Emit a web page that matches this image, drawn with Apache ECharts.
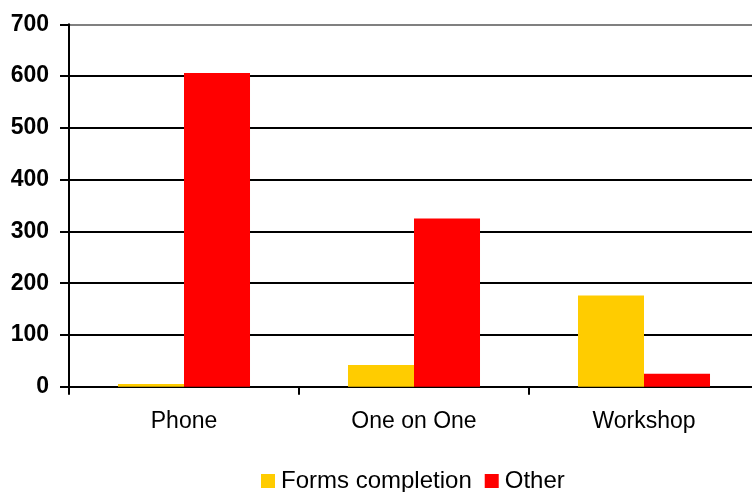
<!DOCTYPE html>
<html>
<head>
<meta charset="utf-8">
<script src="https://cdn.jsdelivr.net/npm/echarts@6/dist/echarts.min.js"></script>
<style>html,body{margin:0;padding:0;background:#fff;overflow:hidden;width:752px;height:492px;}#c{width:770px;height:492px;}</style>
</head>
<body>
<div id="c"></div>
<script>
const categories = ['Phone', 'One on One', 'Workshop'];
const formsCompletion = [5, 42, 176];
const other = [606, 325, 25];
const yTicks = [0, 100, 200, 300, 400, 500, 600, 700];

const chart = echarts.init(document.getElementById('c'), null, {renderer: 'canvas'});
const font = 'Arial, "Liberation Sans", sans-serif';
chart.setOption({
  animation: false,
  backgroundColor: '#fff',
  grid: {left: 69, right: 11, top: 24.3, bottom: 105.3, containLabel: false},
  legend: {
    left: 261, top: 469, padding: 0,
    itemWidth: 14, itemHeight: 14, itemGap: 13,
    icon: 'rect',
    textStyle: {fontFamily: font, fontSize: 24, color: '#000', padding: [0, 0, 0, 1]},
    data: ['Forms completion', 'Other']
  },
  xAxis: {
    type: 'category',
    data: categories,
    axisLine: {lineStyle: {color: '#000', width: 2}},
    axisTick: {show: true, length: 8, inside: false, alignWithLabel: false, lineStyle: {color: '#000', width: 2}},
    axisLabel: {fontFamily: font, fontSize: 23, color: '#000', margin: 23}
  },
  yAxis: {
    type: 'value',
    min: yTicks[0], max: yTicks[yTicks.length - 1], interval: 100,
    axisLine: {show: true, lineStyle: {color: '#000', width: 2}},
    axisTick: {show: true, length: 9, lineStyle: {color: '#000', width: 2}},
    axisLabel: {fontFamily: font, fontSize: 23, fontWeight: 'bold', color: '#000', margin: 20},
    splitLine: {show: true, lineStyle: {color: ['#000', '#000', '#000', '#000', '#000', '#000', '#000', '#808080'], width: 2}}
  },
  series: [
    {name: 'Forms completion', type: 'bar', data: formsCompletion, itemStyle: {color: '#FFCC00'}, barGap: '0%', barCategoryGap: '42.6%'},
    {name: 'Other', type: 'bar', data: other, itemStyle: {color: '#FF0000'}, barGap: '0%', barCategoryGap: '42.6%'}
  ]
});
</script>
</body>
</html>
